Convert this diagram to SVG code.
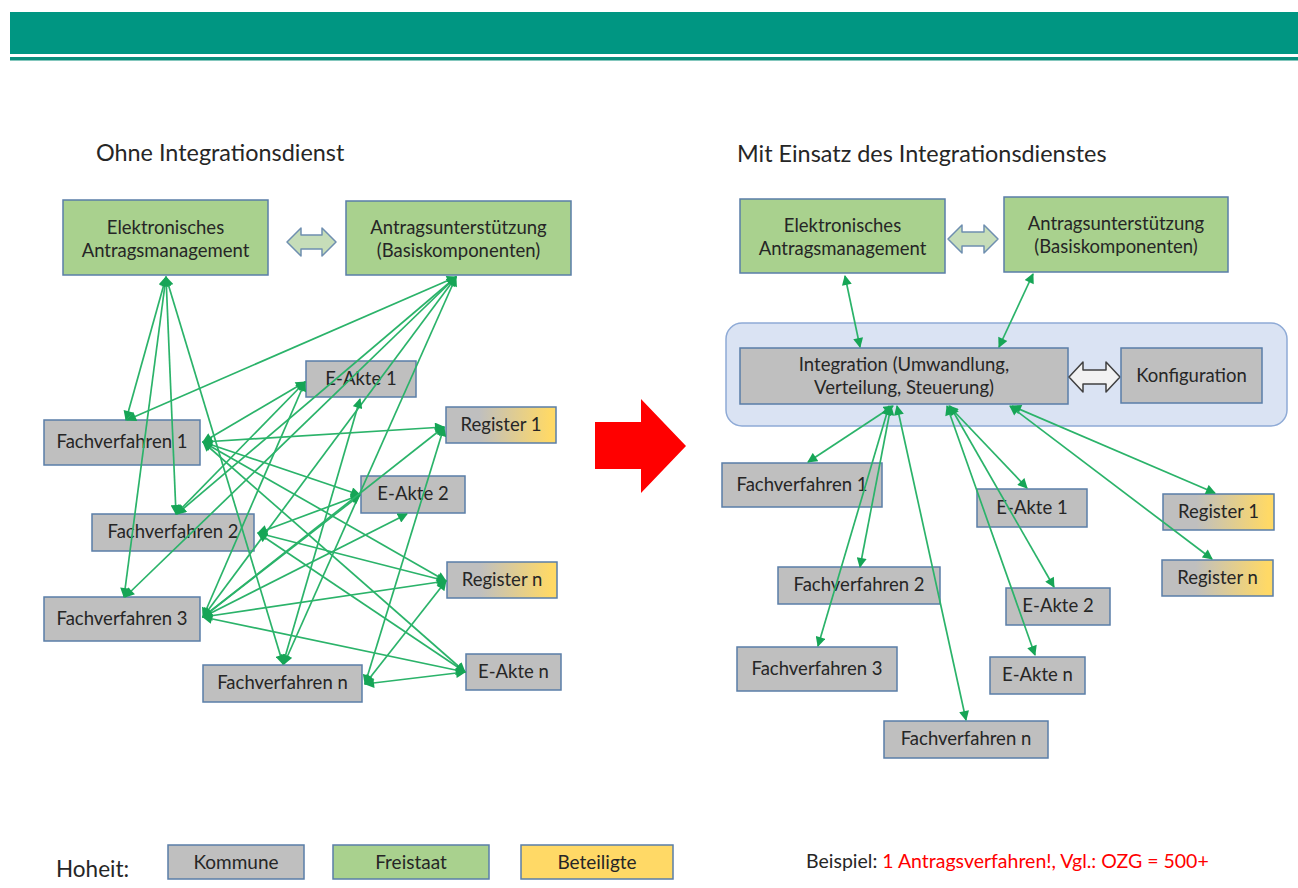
<svg xmlns="http://www.w3.org/2000/svg" width="1298" height="888" viewBox="0 0 1298 888">
  <style>
    .lbl { font-family: Lato, "Liberation Sans", sans-serif; font-size: 18.5px; fill: #262626; text-anchor: middle; }
    .head { font-family: Lato, "Liberation Sans", sans-serif; font-size: 23.4px; fill: #262626; }
    .leg { font-family: Lato, "Liberation Sans", sans-serif; font-size: 19px; fill: #262626; text-anchor: middle; }
    .grey { fill: #bfbfbf; stroke: #5a7ea8; stroke-width: 1.5; }
    .green { fill: #a9d18e; stroke: #5a7ea8; stroke-width: 1.5; }
    .reg { fill: url(#regGrad); stroke: #5a7ea8; stroke-width: 1.5; }
    .link line { stroke: #2bb36a; stroke-width: 1.7; marker-start: url(#ah); marker-end: url(#ah); }
  </style>
  <defs>
    <linearGradient id="regGrad" x1="0" y1="0" x2="1" y2="0">
      <stop offset="0.3" stop-color="#bfbfbf"/>
      <stop offset="0.95" stop-color="#ffd966"/>
    </linearGradient>
    <marker id="ah" viewBox="0 0 10 10" refX="9" refY="5" markerWidth="11" markerHeight="10" markerUnits="userSpaceOnUse" orient="auto-start-reverse">
      <path d="M0,0 L10,5 L0,10 z" fill="#16a556"/>
    </marker>
  </defs>

  <rect width="1298" height="888" fill="#ffffff"/>

  <!-- title band -->
  <g id="header">
    <rect x="10" y="12" width="1288" height="42" fill="#009682"/>
    <rect x="10" y="57" width="1288" height="3.5" fill="#0a8f7c"/>
  </g>

  <!-- headings -->
  <text class="head" x="96" y="161">Ohne Integrationsdienst</text>
  <text class="head" x="737" y="162">Mit Einsatz des Integrationsdienstes</text>

  <!-- ===== left: nodes ===== -->
  <g id="l-eam">
    <rect class="green" x="63" y="200" width="205" height="75"/>
    <text class="lbl" x="165.5" y="234">Elektronisches</text>
    <text class="lbl" x="165.5" y="257">Antragsmanagement</text>
  </g>
  <g id="l-au">
    <rect class="green" x="346" y="201" width="225" height="74"/>
    <text class="lbl" x="458.5" y="234">Antragsunterstützung</text>
    <text class="lbl" x="458.5" y="257">(Basiskomponenten)</text>
  </g>
  <g id="l-swap">
    <path d="M287,242 L301,228 L301,235 L322,235 L322,228 L336,242 L322,256 L322,249 L301,249 L301,256 Z" fill="#c6ddb9" stroke="#6f8fb0" stroke-width="1.5" stroke-linejoin="round"/>
  </g>
  <g id="l-eakte1">
    <rect class="grey" x="306" y="361" width="110" height="36"/>
    <text class="lbl" x="361" y="385">E-Akte 1</text>
  </g>
  <g id="l-register1">
    <rect class="reg" x="446" y="407" width="110" height="36"/>
    <text class="lbl" x="501" y="431">Register 1</text>
  </g>
  <g id="l-fv1">
    <rect class="grey" x="44" y="420" width="156" height="45"/>
    <text class="lbl" x="122" y="448">Fachverfahren 1</text>
  </g>
  <g id="l-eakte2">
    <rect class="grey" x="361" y="476" width="104" height="37"/>
    <text class="lbl" x="413" y="500">E-Akte 2</text>
  </g>
  <g id="l-fv2">
    <rect class="grey" x="92" y="514" width="162" height="37"/>
    <text class="lbl" x="173" y="538">Fachverfahren 2</text>
  </g>
  <g id="l-registern">
    <rect class="reg" x="447" y="562" width="110" height="36"/>
    <text class="lbl" x="502" y="586">Register n</text>
  </g>
  <g id="l-fv3">
    <rect class="grey" x="44" y="597" width="156" height="44"/>
    <text class="lbl" x="122" y="625">Fachverfahren 3</text>
  </g>
  <g id="l-eakten">
    <rect class="grey" x="466" y="654" width="95" height="36"/>
    <text class="lbl" x="513.5" y="678">E-Akte n</text>
  </g>
  <g id="l-fvn">
    <rect class="grey" x="203" y="665" width="159" height="37"/>
    <text class="lbl" x="282.5" y="689">Fachverfahren n</text>
  </g>

  <!-- ===== left: point-to-point connections (drawn over the boxes) ===== -->
  <g id="connectors-left" class="link">
    <line x1="166" y1="277" x2="126" y2="420"/>
    <line x1="166" y1="277" x2="176" y2="514"/>
    <line x1="166" y1="277" x2="124" y2="597"/>
    <line x1="166" y1="277" x2="283" y2="664"/>
    <line x1="456" y1="277" x2="127" y2="420"/>
    <line x1="456" y1="277" x2="177" y2="514"/>
    <line x1="456" y1="277" x2="125" y2="597"/>
    <line x1="456" y1="277" x2="203" y2="617"/>
    <line x1="456" y1="277" x2="284" y2="664"/>
    <line x1="203" y1="442" x2="305" y2="382"/>
    <line x1="203" y1="442" x2="444" y2="427"/>
    <line x1="203" y1="442" x2="360" y2="495"/>
    <line x1="203" y1="442" x2="446" y2="581"/>
    <line x1="203" y1="442" x2="465" y2="672"/>
    <line x1="176" y1="514" x2="305" y2="382"/>
    <line x1="258" y1="533" x2="360" y2="495"/>
    <line x1="258" y1="533" x2="446" y2="581"/>
    <line x1="258" y1="533" x2="465" y2="672"/>
    <line x1="203" y1="617" x2="305" y2="382"/>
    <line x1="203" y1="617" x2="360" y2="495"/>
    <line x1="203" y1="617" x2="407" y2="514"/>
    <line x1="203" y1="617" x2="444" y2="427"/>
    <line x1="203" y1="617" x2="446" y2="581"/>
    <line x1="203" y1="617" x2="465" y2="672"/>
    <line x1="283" y1="664" x2="360" y2="399"/>
    <line x1="365" y1="684" x2="444" y2="427"/>
    <line x1="365" y1="684" x2="446" y2="581"/>
    <line x1="365" y1="684" x2="465" y2="672"/>
  </g>

  <!-- ===== transition arrow ===== -->
  <path d="M595,422 L641,422 L641,399 L686,446 L641,493 L641,469 L595,469 Z" fill="#ff0000"/>

  <!-- ===== right: nodes ===== -->
  <g id="r-eam">
    <rect class="green" x="740" y="199" width="205" height="74"/>
    <text class="lbl" x="842.5" y="232">Elektronisches</text>
    <text class="lbl" x="842.5" y="255">Antragsmanagement</text>
  </g>
  <g id="r-au">
    <rect class="green" x="1004" y="197" width="224" height="75"/>
    <text class="lbl" x="1116" y="230">Antragsunterstützung</text>
    <text class="lbl" x="1116" y="253">(Basiskomponenten)</text>
  </g>
  <g id="r-swap">
    <path d="M948,239 L962,225 L962,232 L984,232 L984,225 L998,239 L984,253 L984,246 L962,246 L962,253 Z" fill="#c6ddb9" stroke="#6f8fb0" stroke-width="1.5" stroke-linejoin="round"/>
  </g>
  <g id="r-integrationsdienst">
    <rect x="726" y="323" width="561" height="103" rx="16" ry="16" fill="#dae3f3" stroke="#8eaad6" stroke-width="1.5"/>
  </g>
  <g id="r-integration">
    <rect class="grey" x="740" y="348" width="328" height="56"/>
    <text class="lbl" x="904" y="371">Integration (Umwandlung,</text>
    <text class="lbl" x="904" y="394">Verteilung, Steuerung)</text>
  </g>
  <g id="r-config-swap">
    <path d="M1069,377 L1083,362 L1083,370 L1106,370 L1106,362 L1120,377 L1106,392 L1106,384 L1083,384 L1083,392 Z" fill="#f2f2f2" stroke="#404040" stroke-width="1.5" stroke-linejoin="round"/>
  </g>
  <g id="r-konfiguration">
    <rect class="grey" x="1121" y="348" width="141" height="55"/>
    <text class="lbl" x="1191.5" y="382">Konfiguration</text>
  </g>
  <g id="r-fv1">
    <rect class="grey" x="722" y="463" width="160" height="44"/>
    <text class="lbl" x="802" y="491">Fachverfahren 1</text>
  </g>
  <g id="r-eakte1">
    <rect class="grey" x="977" y="489" width="110" height="38"/>
    <text class="lbl" x="1032" y="514">E-Akte 1</text>
  </g>
  <g id="r-register1">
    <rect class="reg" x="1163" y="494" width="111" height="36"/>
    <text class="lbl" x="1218.5" y="518">Register 1</text>
  </g>
  <g id="r-registern">
    <rect class="reg" x="1162" y="560" width="111" height="36"/>
    <text class="lbl" x="1217.5" y="584">Register n</text>
  </g>
  <g id="r-fv2">
    <rect class="grey" x="778" y="567" width="162" height="37"/>
    <text class="lbl" x="859" y="591">Fachverfahren 2</text>
  </g>
  <g id="r-eakte2">
    <rect class="grey" x="1006" y="588" width="104" height="37"/>
    <text class="lbl" x="1058" y="612">E-Akte 2</text>
  </g>
  <g id="r-fv3">
    <rect class="grey" x="737" y="647" width="160" height="44"/>
    <text class="lbl" x="817" y="675">Fachverfahren 3</text>
  </g>
  <g id="r-eakten">
    <rect class="grey" x="990" y="657" width="95" height="37"/>
    <text class="lbl" x="1037.5" y="681">E-Akte n</text>
  </g>
  <g id="r-fvn">
    <rect class="grey" x="884" y="721" width="164" height="37"/>
    <text class="lbl" x="966" y="745">Fachverfahren n</text>
  </g>

  <!-- ===== right: hub connections (drawn over the container) ===== -->
  <g id="connectors-right" class="link">
    <line x1="845" y1="276" x2="860" y2="347"/>
    <line x1="1033" y1="274" x2="999" y2="347"/>
    <line x1="893" y1="406" x2="808" y2="462"/>
    <line x1="891" y1="406" x2="860" y2="567"/>
    <line x1="889" y1="406" x2="818" y2="646"/>
    <line x1="897" y1="406" x2="966" y2="720"/>
    <line x1="949" y1="406" x2="1027" y2="488"/>
    <line x1="950" y1="406" x2="1054" y2="587"/>
    <line x1="947" y1="406" x2="1035" y2="655"/>
    <line x1="1012" y1="406" x2="1215" y2="493"/>
    <line x1="1010" y1="406" x2="1212" y2="559"/>
  </g>

  <!-- ===== legend ===== -->
  <g id="legend">
    <text x="56" y="877" font-family="Lato, 'Liberation Sans', sans-serif" font-size="22.5" fill="#262626">Hoheit:</text>
    <rect class="grey" x="168" y="845" width="136" height="34"/>
    <text class="leg" x="236" y="869">Kommune</text>
    <rect class="green" x="333" y="845" width="156" height="34"/>
    <text class="leg" x="411" y="869">Freistaat</text>
    <rect x="521" y="845" width="152" height="34" fill="#ffd966" stroke="#5a7ea8" stroke-width="1.5"/>
    <text class="leg" x="597" y="869">Beteiligte</text>
  </g>
  <text x="806" y="868" font-family="Lato, 'Liberation Sans', sans-serif" font-size="19.5" fill="#262626">Beispiel: <tspan fill="#ff0000">1 Antragsverfahren!, Vgl.: OZG = 500+</tspan></text>
</svg>
